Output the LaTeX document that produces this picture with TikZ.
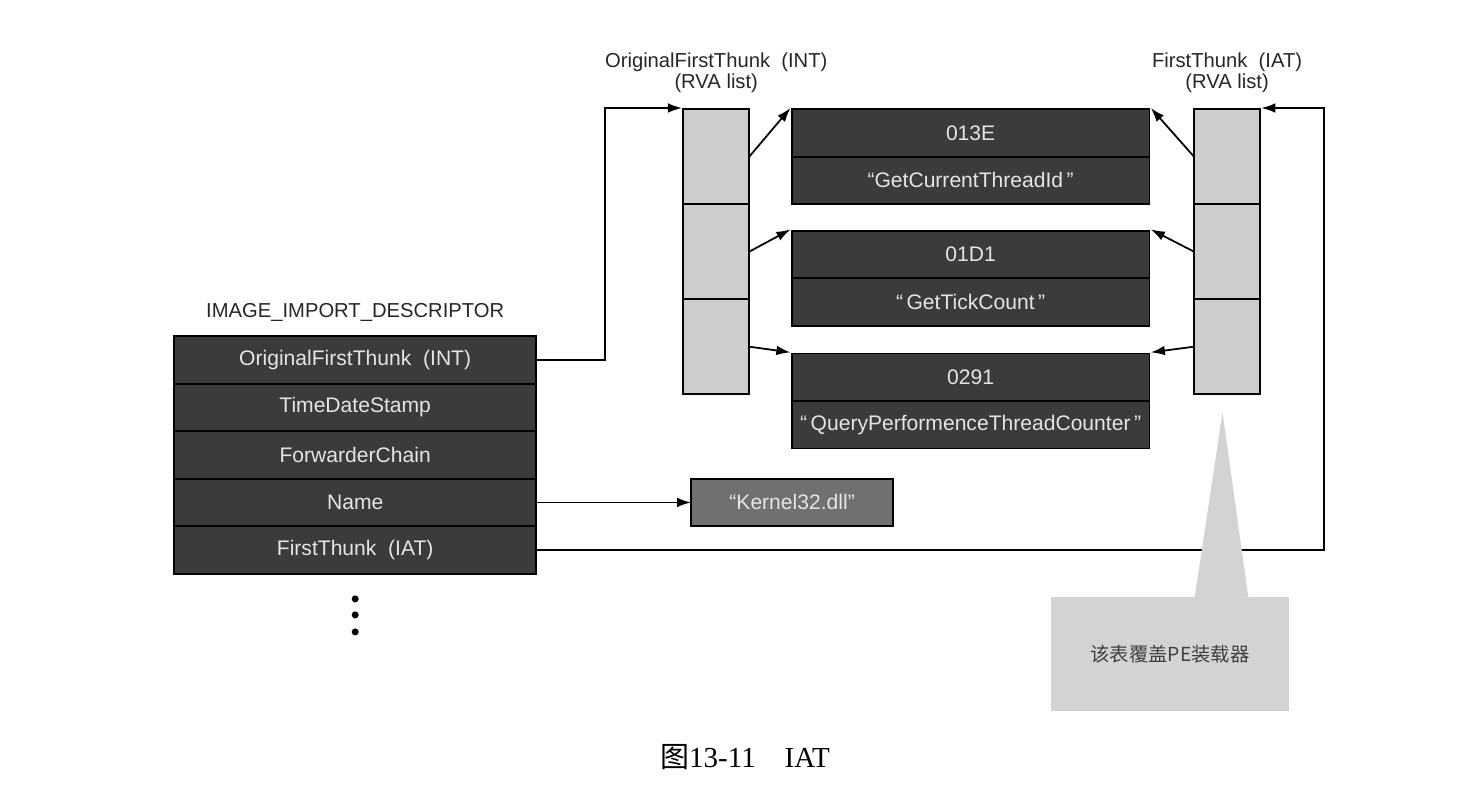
\documentclass[tikz,border=0pt]{standalone}
\usepackage{fontspec}
\setmainfont{Liberation Sans}
\newfontfamily\cjkfont{Noto Sans CJK SC}
\newfontfamily\capfont{Liberation Serif}
\usetikzlibrary{matrix,positioning,calc,arrows.meta}

\definecolor{boxdark}{HTML}{3B3B3B}
\definecolor{boxtext}{HTML}{E4E4E4}
\definecolor{cellgray}{HTML}{CDCDCD}
\definecolor{kernelgray}{HTML}{707070}
\definecolor{notegray}{HTML}{D3D3D3}

\begin{document}
\begin{tikzpicture}[x=0.02cm, y=-0.02cm]
  \tikzset{field/.style={
      draw=black, line width=1pt, fill=boxdark, text=boxtext,
      font=\fontsize{12}{14}\selectfont, inner sep=0pt, outer sep=0pt
    },
    fieldrows/.style={
      matrix of nodes, inner sep=0pt, row sep=-1pt, column sep=0pt,
      nodes={field, minimum width=#1, minimum height=0.95cm}
    },
    thunks/.style={
      matrix of nodes, nodes in empty cells, inner sep=0pt, row sep=-1pt,
      nodes={draw=black, line width=1pt, fill=cellgray, outer sep=0pt,
        minimum width=1.32cm, minimum height=1.9cm}
    },
    link/.style={-{Latex[length=8pt,width=5.5pt]}, line width=1pt},
    heading/.style={font=\fontsize{11.5}{12}\selectfont, text=black!85, align=center},
    note/.style={fill=notegray, outer sep=0pt, minimum width=4.78cm, minimum height=2.3cm,
      text=black!75, font=\cjkfont\fontsize{11}{13}\selectfont}
  }
  \useasboundingbox (0,0) rectangle (1471,793);

  \matrix[fieldrows=7.24cm, anchor=north west] (D) at (173,335)
  {
    OriginalFirstThunk~~(INT)\\
    TimeDateStamp\\
    ForwarderChain\\
    Name\\
    FirstThunk~~(IAT)\\
  };

  \matrix[thunks, anchor=north west] (INT) at (682,108)
  {
    {}\\
    {}\\
    {}\\
  };

  \matrix[fieldrows=7.16cm] (N1) [right=0.8cm of INT.north east, anchor=north west]
  {
    013E\\
    “GetCurrentThreadId\,”\\
  };
  \matrix[fieldrows=7.16cm] (N2) [below=0.48cm of N1]
  {
    01D1\\
    “\,GetTickCount\,”\\
  };
  \matrix[fieldrows=7.16cm] (N3) [below=0.51cm of N2]
  {
    0291\\
    “\,QueryPerformenceThreadCounter\,”\\
  };

  \matrix[thunks] (IAT) [right=0.84cm of N1.north east, anchor=north west]
  {
    {}\\
    {}\\
    {}\\
  };

  \node[field, fill=kernelgray, minimum width=4.04cm, minimum height=0.94cm] (K)
    [right=3.1cm of D-4-1] {“Kernel32.dll”};

  \node[heading] (Dt) [above=0.15cm of D] {IMAGE\_IMPORT\_DESCRIPTOR};
  \node[heading] (INTt) [above=0.18cm of INT] {OriginalFirstThunk~~(INT)\\(RVA list)};
  \node[heading] (IATt) [above=0.18cm of IAT] {FirstThunk~~(IAT)\\(RVA list)};

  \foreach \d in {24,40,57}
    \fill ($(D.south)+(0,\d)$) circle [radius=0.07cm];

  \draw[link] (D-1-1.east) -- ++(69,0) |- (INT.north west);
  \draw[link] (D-4-1.east) -- (K);
  \draw[link] (D-5-1.east) -- ++(788,0) |- (IAT.north east);

  \foreach \i in {1,2,3} {
    \draw[link] (INT-\i-1.east) -- (N\i.north west);
    \draw[link] (IAT-\i-1.west) -- (N\i.north east);
  }

  % callout
  \node[note] (Note) at (1170,654) {该表覆盖PE装载器};
  \fill[notegray] ([xshift=0.49cm, yshift=-1pt]Note.north) -- ([xshift=1.05cm, yshift=3.68cm]Note.north)
    -- ([xshift=1.57cm, yshift=-1pt]Note.north) -- cycle;

  \node[font=\fontsize{16.5}{18}\selectfont] (Cap) at (745,757) {{\cjkfont 图}\capfont 13-11\quad IAT};
\end{tikzpicture}
\end{document}
